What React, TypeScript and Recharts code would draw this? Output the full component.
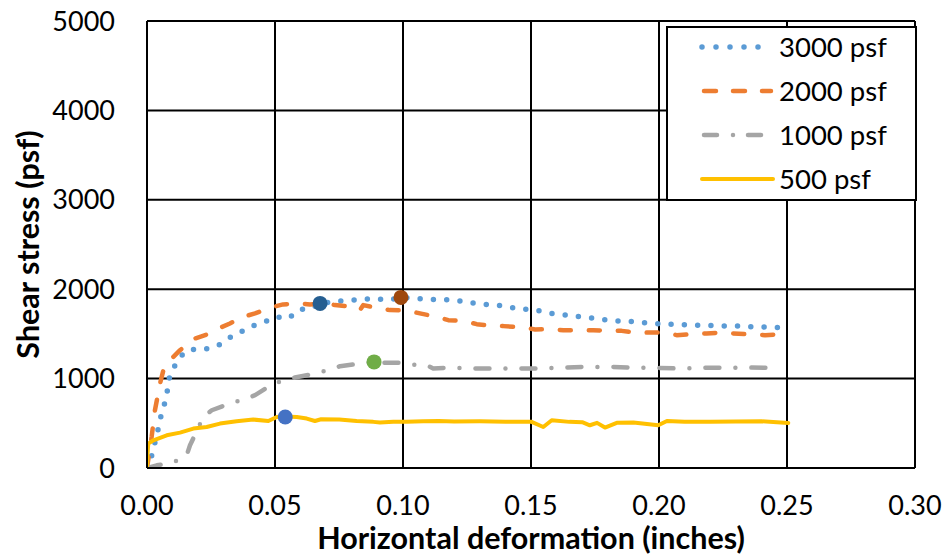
import {
  ComposedChart,
  Line,
  Scatter,
  XAxis,
  YAxis,
  CartesianGrid,
  Legend,
  Label,
} from "recharts";

const FONT = "Lato, 'Open Sans', sans-serif";

const xTicks = [0, 0.05, 0.1, 0.15, 0.2, 0.25, 0.3];
const yTicks = [0, 1000, 2000, 3000, 4000, 5000];

// 3000 psf normal load
const defl3000 = [
  0, 0.001, 0.0022, 0.0047, 0.0057, 0.0073, 0.0082, 0.009, 0.0116, 0.0146, 0.0191,
  0.0237, 0.0279, 0.0322, 0.0367, 0.0413, 0.046, 0.0507, 0.0552, 0.0598, 0.0643,
  0.0676, 0.0743, 0.079, 0.0838, 0.0891, 0.0936, 0.0992, 0.1036, 0.1089, 0.114,
  0.1193, 0.1245, 0.1297, 0.1349, 0.14, 0.1451, 0.1503, 0.1553, 0.1598, 0.165, 0.17,
  0.1753, 0.1805, 0.1857, 0.1909, 0.1961, 0.2013, 0.2065, 0.2118, 0.2169, 0.2221,
  0.2273, 0.2325, 0.2378, 0.243, 0.2482, 0.25,
];
const stress3000 = [
  0, 50, 179, 475, 616, 758, 907, 1057, 1176, 1299, 1333, 1333, 1371, 1456, 1523, 1590,
  1635, 1691, 1673, 1774, 1785, 1841, 1867, 1875, 1886, 1897, 1878, 1905, 1904, 1886,
  1886, 1878, 1859, 1833, 1825, 1811, 1780, 1774, 1747, 1718, 1707, 1688, 1673, 1651,
  1643, 1635, 1620, 1609, 1609, 1598, 1598, 1590, 1587, 1587, 1576, 1576, 1568, 1568,
];

// 2000 psf normal load
const defl2000 = [
  0, 0.0018, 0.0031, 0.0051, 0.0064, 0.009, 0.0129, 0.0188, 0.0227, 0.0285, 0.0324,
  0.0376, 0.0422, 0.0493, 0.0532, 0.0598, 0.0637, 0.0702, 0.0734, 0.0806, 0.0832,
  0.0845, 0.091, 0.0949, 0.1014, 0.1066, 0.1132, 0.1177, 0.1242, 0.1288, 0.1353,
  0.1392, 0.1464, 0.1516, 0.1574, 0.1626, 0.1691, 0.1743, 0.1809, 0.1854, 0.1919,
  0.1965, 0.2023, 0.2069, 0.2134, 0.2186, 0.2245, 0.229, 0.2362, 0.2414, 0.2479, 0.2505,
];
const stress2000 = [
  0, 347, 646, 945, 1094, 1206, 1318, 1449, 1486, 1568, 1617, 1691, 1729, 1803, 1830,
  1841, 1830, 1841, 1822, 1803, 1766, 1822, 1785, 1766, 1762, 1729, 1691, 1654, 1643,
  1609, 1590, 1587, 1572, 1550, 1553, 1542, 1542, 1542, 1534, 1534, 1512, 1516, 1516,
  1486, 1497, 1505, 1516, 1505, 1494, 1486, 1497, 1497,
];

// 1000 psf normal load
const defl1000 = [
  0, 0.0038, 0.0099, 0.0155, 0.0168, 0.022, 0.0253, 0.0316, 0.0376, 0.0422, 0.0477,
  0.0532, 0.0578, 0.0643, 0.0708, 0.0754, 0.0815, 0.0887, 0.0923, 0.0991, 0.1053,
  0.1092, 0.1118, 0.1197, 0.125, 0.1346, 0.1438, 0.153, 0.1626, 0.1718, 0.1806,
  0.1893, 0.1984, 0.2075, 0.2161, 0.2251, 0.2342, 0.2427, 0.2457,
];
const stress1000 = [
  0, 30, 56, 142, 254, 571, 646, 713, 765, 814, 915, 982, 1012, 1049, 1094, 1139, 1161,
  1187, 1176, 1176, 1150, 1150, 1113, 1124, 1113, 1113, 1112, 1113, 1124, 1131, 1131,
  1124, 1120, 1113, 1120, 1120, 1124, 1120, 1120,
];

// 500 psf normal load
const defl500 = [
  0, 0.0002, 0.0005, 0.0025, 0.0077, 0.0129, 0.0181, 0.0233, 0.0285, 0.035, 0.0415,
  0.0474, 0.0507, 0.054, 0.0585, 0.0624, 0.0656, 0.068, 0.0751, 0.0819, 0.0884, 0.091,
  0.0962, 0.1014, 0.1079, 0.1138, 0.12, 0.13, 0.14, 0.15, 0.1548, 0.1581, 0.165, 0.17,
  0.173, 0.1758, 0.1789, 0.1835, 0.19, 0.1997, 0.2031, 0.21, 0.22, 0.23, 0.24, 0.2505,
];
const stress500 = [
  0, 150, 273, 310, 366, 396, 441, 459, 497, 523, 542, 526, 571, 575, 571, 553, 526, 545,
  542, 526, 516, 510, 516, 516, 523, 526, 520, 522, 518, 518, 459, 534, 516, 512, 478,
  505, 452, 505, 510, 478, 526, 516, 518, 520, 522, 504,
];

// peak shear points
const peakDefl = [0.0676, 0.0992, 0.0887, 0.054];
const peakStress = [1841, 1908, 1187, 571];
const peakColors = ["#255E91", "#9E480E", "#70AD47", "#4472C4"];

const toPoints = (xs: number[], ys: number[]) => xs.map((x, i) => ({ x, y: ys[i] }));

const series = [
  {
    name: "3000 psf",
    color: "#5B9BD5",
    data: toPoints(defl3000, stress3000),
    width: 5.5,
    dash: "0 13.3",
    legendDash: "0 14",
    legendX: [702, 760],
  },
  {
    name: "2000 psf",
    color: "#ED7D31",
    data: toPoints(defl2000, stress2000),
    width: 4.5,
    dash: "11 18",
    legendDash: "12 17",
    legendX: [704, 771],
  },
  {
    name: "1000 psf",
    color: "#A5A5A5",
    data: toPoints(defl1000, stress1000),
    width: 4.5,
    dash: "14 16 0 16",
    legendDash: "13 16 0 15",
    legendX: [704, 761],
  },
  {
    name: "500 psf",
    color: "#FFC000",
    data: toPoints(defl500, stress500),
    width: 4,
    dash: undefined,
    legendDash: undefined,
    legendX: [702, 773],
  },
];

const LEGEND_LEFT = 666;

function LegendBox() {
  return (
    <div
      style={{
        position: "relative",
        width: 247,
        height: 171,
        border: "2px solid #000",
        background: "#fff",
        fontFamily: FONT,
        fontSize: 27.5,
        color: "#000",
      }}
    >
      {series.map((s, i) => (
        <div
          key={s.name}
          style={{
            position: "absolute",
            left: 0,
            top: -3 + 44 * i,
            height: 44,
            width: "100%",
            display: "flex",
            alignItems: "center",
          }}
        >
          <svg width={111} height={44} style={{ flex: "none" }}>
            <line
              x1={s.legendX[0] - LEGEND_LEFT - 2}
              x2={s.legendX[1] - LEGEND_LEFT - 2}
              y1={22}
              y2={22}
              stroke={s.color}
              strokeWidth={s.width}
              strokeDasharray={s.legendDash}
              strokeLinecap="round"
            />
          </svg>
          <span style={{ lineHeight: "44px", whiteSpace: "nowrap" }}>{s.name}</span>
        </div>
      ))}
    </div>
  );
}

function YTitle(props: any) {
  const vb = props.viewBox || { x: 0, y: 0, width: 0, height: 0 };
  const cx = vb.x + 27;
  const cy = vb.y + vb.height / 2;
  return (
    <text
      x={cx}
      y={cy}
      transform={`rotate(-90 ${cx} ${cy})`}
      textAnchor="middle"
      dominantBaseline="central"
      fontFamily={FONT}
      fontSize={30.5}
      fontWeight={700}
      fill="#000"
    >
      Shear stress (psf)
    </text>
  );
}

export default function App() {
  return (
    <div style={{ position: "absolute", left: 0, top: 0, background: "#fff" }}>
      <ComposedChart
        width={949}
        height={558}
        margin={{ top: 21, right: 34, left: 0, bottom: 0 }}
        style={{ fontFamily: FONT }}
      >
        <CartesianGrid
          stroke="#000"
          strokeWidth={2}
          horizontalValues={yTicks}
          verticalValues={xTicks}
        />
        <XAxis
          type="number"
          dataKey="x"
          domain={[0, 0.3]}
          ticks={xTicks}
          allowDataOverflow
          tickFormatter={(v: number) => v.toFixed(2)}
          tick={{ fontSize: 27, fill: "#000", fontFamily: FONT }}
          tickLine={false}
          tickSize={0}
          tickMargin={28}
          axisLine={{ stroke: "#000", strokeWidth: 2 }}
          height={90}
        >
          <Label
            value="Horizontal deformation (inches)"
            position="insideBottom"
            offset={9}
            fontSize={30.5}
            fontWeight={700}
            fill="#000"
            fontFamily={FONT}
          />
        </XAxis>
        <YAxis
          type="number"
          dataKey="y"
          domain={[0, 5000]}
          ticks={yTicks}
          allowDataOverflow
          tick={{ fontSize: 27, fill: "#000", fontFamily: FONT }}
          tickLine={false}
          tickSize={0}
          tickMargin={32}
          axisLine={{ stroke: "#000", strokeWidth: 2 }}
          width={147}
        >
          <Label content={<YTitle />} />
        </YAxis>
        <Legend
          layout="vertical"
          align="center"
          verticalAlign="middle"
          wrapperStyle={{ left: LEGEND_LEFT, top: 26, width: 251, height: 175 }}
          content={() => <LegendBox />}
        />
        {series.map((s) => (
          <Line
            key={s.name}
            data={s.data}
            dataKey="y"
            name={s.name}
            type="linear"
            stroke={s.color}
            strokeWidth={s.width}
            strokeDasharray={s.dash}
            strokeLinecap="round"
            strokeLinejoin="round"
            dot={false}
            activeDot={false}
            isAnimationActive={false}
          />
        ))}
        {peakDefl.map((x, i) => (
          <Scatter
            key={`peak-${i}`}
            data={[{ x, y: peakStress[i] }]}
            dataKey="y"
            fill={peakColors[i]}
            isAnimationActive={false}
            shape={(p: any) => <circle cx={p.cx} cy={p.cy} r={7.5} fill={peakColors[i]} />}
          />
        ))}
      </ComposedChart>
    </div>
  );
}
